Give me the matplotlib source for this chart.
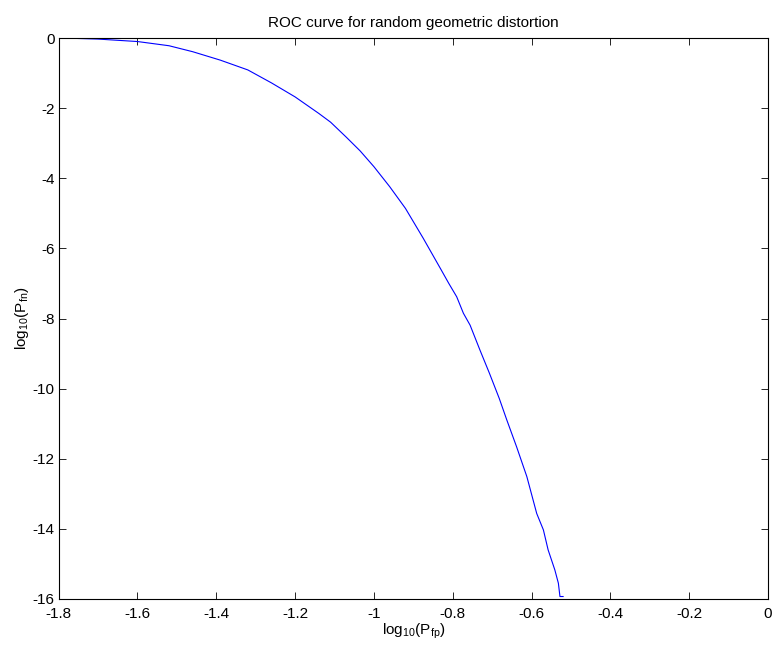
import matplotlib
matplotlib.use("Agg")
import matplotlib.pyplot as plt

plt.rcParams['font.family'] = ['Liberation Sans', 'DejaVu Sans']
plt.rcParams['mathtext.default'] = 'regular'
plt.rcParams['axes.unicode_minus'] = False

# ROC curve points
log_pfp = [-1.76, -1.70, -1.60, -1.52, -1.46, -1.39, -1.32, -1.26, -1.20,
           -1.14, -1.11, -1.07, -1.035, -1.00, -0.96, -0.92, -0.875, -0.83,
           -0.81, -0.79, -0.773, -0.756, -0.731, -0.707, -0.682, -0.663,
           -0.638, -0.612, -0.587, -0.570, -0.558, -0.541, -0.532, -0.528,
           -0.520]
log_pfn = [-0.01, -0.03, -0.10, -0.22, -0.39, -0.63, -0.91, -1.28, -1.68,
           -2.15, -2.40, -2.83, -3.22, -3.67, -4.24, -4.86, -5.71, -6.60,
           -7.00, -7.38, -7.85, -8.19, -8.90, -9.56, -10.28, -10.89,
           -11.66, -12.51, -13.56, -14.03, -14.60, -15.17, -15.55, -15.93,
           -15.93]

x_ticks = [-1.8, -1.6, -1.4, -1.2, -1, -0.8, -0.6, -0.4, -0.2, 0]
x_labels = ['-1.8', '-1.6', '-1.4', '-1.2', '-1', '-0.8', '-0.6', '-0.4', '-0.2', '0']
y_ticks = [0, -2, -4, -6, -8, -10, -12, -14, -16]

fig = plt.figure(figsize=(7.75, 6.5), dpi=100)
ax = fig.add_axes([0.0757, 0.0785, 0.9153, 0.863])
ax.plot(log_pfp, log_pfn, color='#0000ff', lw=0.8)

ax.set_xlim(-1.8, 0)
ax.set_ylim(-16, 0)
ax.set_xticks(x_ticks)
ax.set_xticklabels(x_labels)
ax.set_yticks(y_ticks)
ax.set_yticklabels([str(t) for t in y_ticks])
ax.tick_params(direction='in', top=True, right=True, length=5, width=0.6,
               labelsize=11)
ax.tick_params(axis='x', pad=6)
ax.tick_params(axis='y', pad=3)
for s in ax.spines.values():
    s.set_linewidth(0.8)

ax.set_title('ROC curve for random geometric distortion', fontsize=11, pad=8)
ax.set_xlabel('log$_{10}$(P$_{fp}$)', fontsize=11, labelpad=0)
ax.set_ylabel('log$_{10}$(P$_{fn}$)', fontsize=11, labelpad=1)

fig.savefig('out.png', dpi=100)
